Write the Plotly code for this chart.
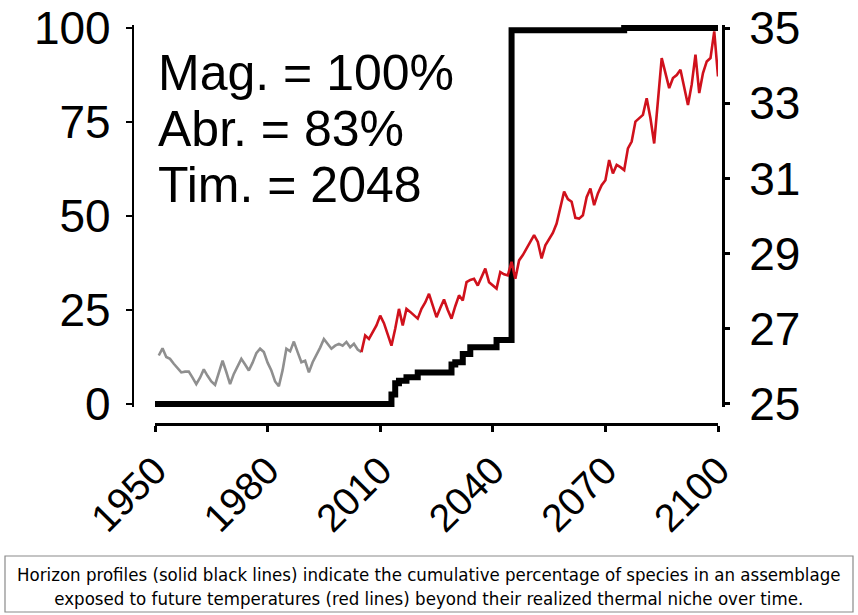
import plotly.graph_objects as go

# ---------------- data ----------------
hist_years = list(range(1951, 2006))
hist_temp = [26.29, 26.48, 26.25, 26.20, 26.07, 25.95, 25.84, 25.86, 25.86, 25.70,
             25.53, 25.70, 25.92, 25.75, 25.60, 25.51, 25.80, 26.15, 25.85, 25.53,
             25.80, 26.00, 26.20, 26.05, 25.89, 26.10, 26.35, 26.47, 26.38, 26.10,
             25.89, 25.60, 25.47, 25.90, 26.47, 26.40, 26.66, 26.38, 26.11, 26.15,
             25.84, 26.11, 26.30, 26.50, 26.73, 26.60, 26.47, 26.55, 26.60, 26.55,
             26.65, 26.51, 26.60, 26.45, 26.38]

fut_years = list(range(2005, 2101))
fut_temp = [26.38, 26.82, 26.73, 26.90, 27.09, 27.35, 27.15, 26.85, 26.55, 27.00,
            27.53, 27.09, 27.53, 27.45, 27.35, 27.27, 27.53, 27.70, 27.93, 27.60,
            27.31, 27.55, 27.78, 27.50, 27.27, 27.60, 27.89, 27.75, 28.24, 28.30,
            28.33, 28.15, 28.40, 28.60, 28.24, 28.15, 28.07, 28.51, 28.45, 28.42,
            28.78, 28.33, 28.82, 28.96, 29.15, 29.30, 29.49, 29.31, 28.87, 29.22,
            29.40, 29.55, 29.80, 30.20, 30.65, 30.45, 30.38, 29.95, 29.93, 30.02,
            30.50, 30.73, 30.29, 30.60, 30.82, 30.95, 31.49, 31.13, 31.36, 31.30,
            31.22, 31.80, 31.98, 32.51, 32.60, 32.69, 33.13, 32.60, 31.93, 33.00,
            34.20, 33.80, 33.40, 33.67, 33.75, 33.89, 33.40, 32.95, 33.50, 34.29,
            33.27, 33.80, 34.11, 34.20, 34.91, 33.71]

step_years = [1950, 2013, 2014, 2015, 2017, 2020, 2029, 2030, 2032, 2034, 2041, 2045, 2075, 2100]
step_pct = [0, 2.5, 5.5, 6.2, 7.1, 8.4, 10.5, 11.1, 13.3, 15.1, 17.0, 99.4, 100, 100]

x_ticks = [1950, 1980, 2010, 2040, 2070, 2100]
pct_ticks = [0, 25, 50, 75, 100]
temp_ticks = [25, 27, 29, 31, 33, 35]

stats_lines = ["Mag. = 100%", "Abr. = 83%", "Tim. = 2048"]
caption = ("Horizon profiles (solid black lines) indicate the cumulative percentage of species in an assemblage<br>"
           "exposed to future temperatures (red lines) beyond their realized thermal niche over time.")

# ---------------- figure ----------------
W, H = 858, 615
FONT = "Liberation Sans, Arial, Helvetica, sans-serif"

def px_x(p):
    return p / W

def px_y(p):
    return 1 - p / H

fig = go.Figure()

fig.add_trace(go.Scatter(x=hist_years, y=hist_temp, mode="lines", yaxis="y2",
                         line=dict(color="#8f8f8f", width=2.6), hoverinfo="skip"))
fig.add_trace(go.Scatter(x=fut_years, y=fut_temp, mode="lines", yaxis="y2",
                         line=dict(color="#d0111c", width=2.6), hoverinfo="skip"))
fig.add_trace(go.Scatter(x=step_years, y=step_pct, mode="lines", yaxis="y",
                         line=dict(color="black", width=6, shape="hv"), hoverinfo="skip"))

ytickfont = dict(family=FONT, size=46, color="black")
xtickfont = dict(family=FONT, size=39, color="black")

fig.update_layout(
    width=W, height=H,
    margin=dict(l=0, r=0, t=0, b=0, pad=0, autoexpand=False),
    paper_bgcolor="white", plot_bgcolor="white",
    showlegend=False,
    xaxis=dict(range=[1950, 2100], domain=[px_x(155), px_x(718)],
               anchor="free", position=px_y(424), automargin=False,
               showline=True, linecolor="black", linewidth=2.5,
               ticks="outside", ticklen=6, tickwidth=2.5, tickcolor="black",
               tickvals=x_ticks, tickangle=-45, tickfont=xtickfont,
               ticklabeloverflow="allow",
               showgrid=False, zeroline=False),
    yaxis=dict(range=[-0.8, 100.8], domain=[px_y(407), px_y(25)],
               anchor="free", position=px_x(133), automargin=False,
               showline=True, linecolor="black", linewidth=2.2,
               ticks="outside", ticklen=6, tickwidth=2.2, tickcolor="black",
               tickvals=pct_ticks, tickfont=ytickfont, ticklabelstandoff=6,
               ticklabeloverflow="allow",
               showgrid=False, zeroline=False),
    yaxis2=dict(range=[24.92, 35.08], overlaying="y", side="right",
                anchor="free", position=px_x(723), automargin=False,
                showline=True, linecolor="black", linewidth=3,
                ticks="outside", ticklen=5, tickwidth=2.5, tickcolor="black",
                tickvals=temp_ticks, tickfont=ytickfont, ticklabelstandoff=10,
                ticklabeloverflow="allow",
                showgrid=False, zeroline=False),
)

for txt, yc in zip(stats_lines, [73, 129, 185]):
    fig.add_annotation(text=txt, xref="paper", yref="paper",
                       x=px_x(156), y=px_y(yc), xanchor="left", yanchor="middle",
                       showarrow=False, font=dict(family=FONT, size=50, color="black"))

fig.add_shape(type="rect", xref="paper", yref="paper",
              x0=px_x(5), x1=px_x(853), y0=px_y(612), y1=px_y(556),
              line=dict(color="#8a8a8a", width=1.2), fillcolor="white")
fig.add_annotation(text=caption, xref="paper", yref="paper",
                   x=px_x(429), y=px_y(586), xanchor="center", yanchor="middle",
                   showarrow=False, align="center",
                   font=dict(family="Liberation Sans Narrow, DejaVu Sans Condensed, Arial Narrow, sans-serif",
                             size=18.5, color="black"))

# remove the default 8px page margin so the figure sits at the window's top-left corner
fig.write_html("out.html", config={"displayModeBar": False},
               post_script="document.body.style.margin='0px';")
